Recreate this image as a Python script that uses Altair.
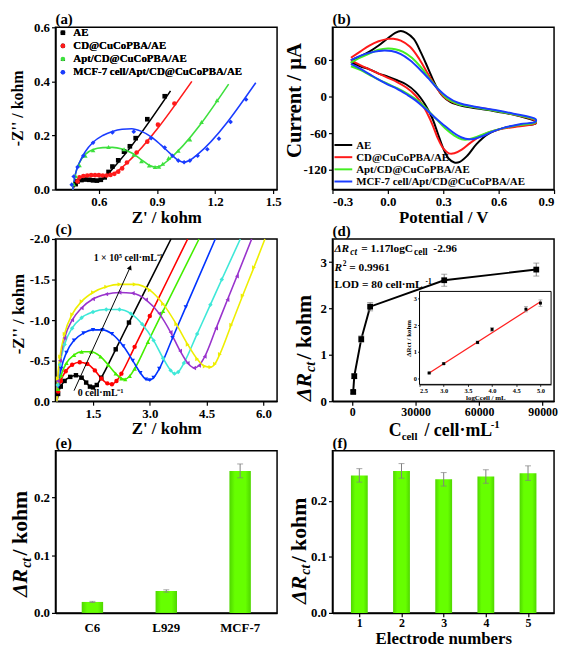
import altair as alt
import pandas as pd

FONT = "Liberation Serif"
W, H = 224, 164
FIX_MINUS = "replace(datum.label, '\u2212', '-')"

# ---------------- (a) Nyquist plots of the electrode build-up ----------------
a_names = ["AE", "CD@CuCoPBA/AE", "Apt/CD@CuCoPBA/AE", "MCF-7 cell/Apt/CD@CuCoPBA/AE"]
a_colors = ["#000000", "#ff1a1a", "#3de03d", "#1a3cff"]
a_shapes = ["square", "circle", "triangle-up", "diamond"]

ae_pts_x = [0.48, 0.49, 0.51, 0.53, 0.55, 0.57, 0.59, 0.61, 0.63, 0.65, 0.67, 0.70, 0.73, 0.76, 0.79, 0.85, 0.94]
ae_pts_y = [0.020, 0.030, 0.035, 0.037, 0.036, 0.034, 0.033, 0.036, 0.045, 0.065, 0.085, 0.108, 0.140, 0.160, 0.190, 0.260, 0.345]
ae_fit_x = [0.465, 0.48, 0.50, 0.53, 0.56, 0.59, 0.62, 0.66, 0.97]
ae_fit_y = [0.0, 0.022, 0.031, 0.035, 0.034, 0.032, 0.038, 0.068, 0.365]

cd_pts_x = [0.49, 0.50, 0.52, 0.54, 0.56, 0.58, 0.60, 0.62, 0.64, 0.66, 0.68, 0.70, 0.72, 0.745, 0.795, 0.85, 0.905, 0.99]
cd_pts_y = [0.030, 0.045, 0.050, 0.052, 0.053, 0.053, 0.053, 0.052, 0.052, 0.054, 0.058, 0.066, 0.078, 0.100, 0.137, 0.177, 0.240, 0.318]
cd_fit_x = [0.465, 0.48, 0.50, 0.54, 0.58, 0.62, 0.66, 0.70, 0.74, 1.08]
cd_fit_y = [0.0, 0.030, 0.045, 0.052, 0.054, 0.052, 0.055, 0.070, 0.095, 0.400]

apt_pts_x = [0.47, 0.48, 0.50, 0.53, 0.57, 0.65, 0.73, 0.78, 0.82, 0.86, 0.89, 0.91, 0.93, 0.96, 1.01, 1.07, 1.13, 1.21]
apt_pts_y = [0.020, 0.050, 0.090, 0.125, 0.145, 0.157, 0.149, 0.129, 0.105, 0.089, 0.083, 0.084, 0.095, 0.117, 0.143, 0.185, 0.250, 0.330]
apt_fit_x = [0.465, 0.48, 0.50, 0.53, 0.57, 0.62, 0.67, 0.72, 0.77, 0.82, 0.86, 0.89, 0.92, 0.96, 1.27]
apt_fit_y = [0.0, 0.060, 0.100, 0.130, 0.148, 0.155, 0.156, 0.150, 0.135, 0.110, 0.090, 0.083, 0.088, 0.110, 0.390]

mcf_pts_x = [0.46, 0.47, 0.49, 0.52, 0.57, 0.67, 0.78, 0.87, 0.94, 0.98, 1.01, 1.04, 1.07, 1.11, 1.16, 1.22, 1.28, 1.36]
mcf_pts_y = [0.018, 0.048, 0.083, 0.125, 0.173, 0.211, 0.214, 0.190, 0.155, 0.125, 0.107, 0.101, 0.107, 0.125, 0.149, 0.188, 0.250, 0.333]
mcf_fit_x = [0.465, 0.48, 0.50, 0.53, 0.57, 0.62, 0.67, 0.72, 0.77, 0.82, 0.87, 0.92, 0.97, 1.01, 1.04, 1.07, 1.11, 1.41]
mcf_fit_y = [0.0, 0.060, 0.100, 0.140, 0.175, 0.200, 0.215, 0.223, 0.225, 0.215, 0.195, 0.165, 0.132, 0.108, 0.101, 0.108, 0.130, 0.395]

# ---------------- (b) cyclic voltammograms ----------------
b_names = a_names
b_colors = ["#000000", "#ff1a1a", "#44ee22", "#1a3cff"]
b_ae_x = [-0.20, -0.15, -0.10, -0.05, 0.00, 0.04, 0.07, 0.10, 0.14, 0.18, 0.22, 0.26, 0.30, 0.34, 0.40, 0.50, 0.60, 0.70, 0.80,
          0.80, 0.72, 0.62, 0.54, 0.48, 0.43, 0.39, 0.36, 0.33, 0.30, 0.27, 0.24, 0.20, 0.15, 0.10, 0.05, 0.00, -0.05, -0.10, -0.15, -0.20]
b_ae_y = [60, 66, 74, 84, 96, 105, 108, 105, 95, 72, 45, 18, 0, -9, -15, -20, -25, -31, -41,
          -44, -47, -52, -62, -78, -97, -107, -108, -102, -85, -60, -35, -12, 8, 20, 27, 33, 38, 45, 50, 57]
b_cd_x = [-0.20, -0.15, -0.10, -0.05, 0.00, 0.03, 0.07, 0.12, 0.17, 0.22, 0.27, 0.31, 0.36, 0.45, 0.55, 0.65, 0.75, 0.80,
          0.80, 0.70, 0.60, 0.52, 0.45, 0.40, 0.36, 0.33, 0.30, 0.27, 0.24, 0.20, 0.15, 0.10, 0.05, 0.00, -0.05, -0.10, -0.15, -0.20]
b_cd_y = [64, 74, 84, 91, 95, 95, 92, 82, 62, 36, 12, -2, -10, -16, -21, -27, -34, -40,
          -44, -49, -54, -62, -75, -87, -93, -93, -85, -68, -45, -20, 2, 15, 24, 31, 38, 45, 52, 60]
b_apt_x = [-0.20, -0.15, -0.10, -0.05, 0.00, 0.04, 0.08, 0.13, 0.18, 0.23, 0.28, 0.32, 0.38, 0.48, 0.58, 0.68, 0.80,
           0.80, 0.70, 0.62, 0.55, 0.49, 0.44, 0.40, 0.36, 0.31, 0.26, 0.21, 0.16, 0.10, 0.05, 0.00, -0.05, -0.10, -0.15, -0.20]
b_apt_y = [56, 64, 71, 77, 79, 78, 74, 64, 48, 28, 10, -3, -12, -18, -23, -29, -38,
           -42, -47, -52, -58, -65, -70, -70, -64, -52, -36, -20, -6, 6, 14, 21, 28, 36, 44, 50]
b_mcf_x = [-0.20, -0.15, -0.10, -0.05, -0.02, 0.02, 0.07, 0.12, 0.17, 0.22, 0.27, 0.32, 0.38, 0.48, 0.58, 0.68, 0.80,
           0.80, 0.72, 0.64, 0.57, 0.51, 0.47, 0.44, 0.40, 0.35, 0.30, 0.25, 0.20, 0.15, 0.10, 0.05, 0.00, -0.05, -0.10, -0.15, -0.20]
b_mcf_y = [60, 67, 72, 75, 76, 75, 70, 60, 46, 30, 13, 0, -10, -17, -22, -28, -37,
           -41, -45, -50, -57, -65, -69, -70, -67, -58, -46, -33, -19, -6, 4, 13, 20, 28, 37, 46, 54]

# ---------------- (c) Nyquist plots for different cell concentrations ----------------
c_names = ["0", "5e2", "1e3", "5e3", "1e4", "5e4", "1e5"]
c_colors = ["#000000", "#ff0000", "#44ee00", "#0033ff", "#3ee8d8", "#9933cc", "#eeee00"]
c_shapes = ["square", "circle", "triangle-up", "triangle-down", "diamond", "triangle-left", "triangle-right"]
c0_x = [0.55, 0.58, 0.65, 0.75, 0.90, 1.05, 1.20, 1.32, 1.42, 1.50, 1.60, 1.72, 2.10, 2.45, 3.56]
c0_y = [0, -0.09, -0.18, -0.25, -0.30, -0.32, -0.29, -0.23, -0.18, -0.17, -0.20, -0.29, -0.64, -0.97, -2.0]
c1_x = [0.55, 0.58, 0.65, 0.78, 0.95, 1.15, 1.35, 1.55, 1.72, 1.88, 2.00, 2.12, 2.25, 2.60, 3.00, 4.00]
c1_y = [0, -0.12, -0.25, -0.37, -0.45, -0.48, -0.46, -0.38, -0.28, -0.22, -0.21, -0.25, -0.34, -0.67, -1.05, -2.0]
c2_x = [0.55, 0.58, 0.66, 0.80, 1.00, 1.20, 1.45, 1.70, 1.90, 2.10, 2.25, 2.35, 2.47, 2.60, 2.95, 3.35, 4.30]
c2_y = [0, -0.15, -0.32, -0.47, -0.57, -0.61, -0.61, -0.55, -0.45, -0.34, -0.28, -0.27, -0.31, -0.40, -0.73, -1.11, -2.0]
c3_x = [0.55, 0.58, 0.66, 0.80, 1.00, 1.25, 1.50, 1.75, 2.00, 2.30, 2.55, 2.75, 2.90, 3.00, 3.10, 3.25, 3.60, 3.95, 4.73]
c3_y = [0, -0.18, -0.40, -0.60, -0.75, -0.84, -0.88, -0.88, -0.83, -0.68, -0.50, -0.35, -0.27, -0.26, -0.29, -0.40, -0.78, -1.16, -2.0]
c4_x = [0.55, 0.57, 0.63, 0.75, 0.95, 1.20, 1.50, 1.85, 2.20, 2.50, 2.80, 3.10, 3.35, 3.55, 3.65, 3.75, 3.90, 4.25, 4.60, 4.90, 5.39]
c4_y = [0, -0.20, -0.45, -0.70, -0.90, -1.03, -1.10, -1.13, -1.13, -1.08, -0.95, -0.75, -0.53, -0.38, -0.34, -0.36, -0.47, -0.83, -1.19, -1.50, -2.0]
c5_x = [0.55, 0.57, 0.63, 0.75, 0.95, 1.20, 1.50, 1.85, 2.20, 2.55, 2.90, 3.25, 3.55, 3.80, 4.00, 4.17, 4.30, 4.45, 4.75, 5.05, 5.30, 5.69]
c5_y = [0, -0.25, -0.50, -0.78, -1.00, -1.15, -1.26, -1.32, -1.34, -1.33, -1.25, -1.08, -0.85, -0.62, -0.47, -0.41, -0.44, -0.55, -0.90, -1.25, -1.54, -2.0]
c6_x = [0.55, 0.57, 0.63, 0.75, 0.95, 1.20, 1.50, 1.85, 2.20, 2.60, 3.00, 3.35, 3.70, 4.00, 4.25, 4.45, 4.60, 4.72, 4.85, 5.15, 5.45, 5.75, 6.04]
c6_y = [0, -0.28, -0.55, -0.83, -1.07, -1.23, -1.34, -1.41, -1.44, -1.44, -1.37, -1.20, -0.95, -0.70, -0.52, -0.43, -0.42, -0.46, -0.58, -0.94, -1.30, -1.65, -2.0]
c_arrow_x = [1.0, 2.48]
c_arrow_y = [-0.13, -1.65]

# ---------------- (d) calibration ----------------
d_conc = [500, 1000, 4300, 8500, 43500, 87000]
d_drct = [0.20, 0.54, 1.34, 2.04, 2.61, 2.84]
d_err = [0.03, 0.05, 0.07, 0.09, 0.13, 0.14]
inset_log = [2.7, 3.0, 3.7, 4.0, 4.7, 5.0]
inset_drct = [0.20, 0.55, 1.35, 1.84, 2.60, 2.83]
inset_err = [0.03, 0.03, 0.05, 0.07, 0.10, 0.12]
inset_fit_x = [2.7, 5.0]
inset_fit_y = [0.20, 2.88]

# ---------------- (e) selectivity, (f) reproducibility ----------------
e_cells = ["C6", "L929", "MCF-7"]
e_vals = [0.019, 0.038, 0.246]
e_err = [0.001, 0.002, 0.012]
f_elec = [1, 2, 3, 4, 5]
f_vals = [0.245, 0.253, 0.238, 0.243, 0.249]
f_err = [0.012, 0.013, 0.012, 0.012, 0.013]


def series_df(names, xs_list, ys_list):
    rows = []
    for n, xs, ys in zip(names, xs_list, ys_list):
        for i, (x, y) in enumerate(zip(xs, ys)):
            rows.append({"s": n, "x": x, "y": y, "i": i})
    return pd.DataFrame(rows)


def txt(text, x, y, size, angle=0, style="normal", align="left", baseline="alphabetic", weight="bold"):
    return alt.Chart(pd.DataFrame({"k": [0]})).mark_text(
        text=text, font=FONT, fontSize=size, fontWeight=weight, fontStyle=style,
        align=align, baseline=baseline, angle=angle, color="black"
    ).encode(x=alt.value(x), y=alt.value(y))


def ytitle_sub(ybot, xb, size=22, sub=14):
    w1 = 1.3 * size + 1
    w2 = 0.75 * sub + 2
    return [txt("\u0394R", xb, ybot, size, angle=270, style="italic"),
            txt("ct", xb + 4, ybot - w1, sub, angle=270, style="italic"),
            txt("/ kohm", xb, ybot - w1 - w2, size, angle=270)]


bar_fill = alt.LinearGradient(
    gradient="linear", x1=0, x2=1, y1=0, y2=0,
    stops=[alt.GradientStop(color="#4fd600", offset=0),
           alt.GradientStop(color="#66ff00", offset=0.25),
           alt.GradientStop(color="#66ff00", offset=0.75),
           alt.GradientStop(color="#4fd600", offset=1)])
ERR = "#808080"

# ======== panel (a) ========
a_pts = series_df(a_names, [ae_pts_x, cd_pts_x, apt_pts_x, mcf_pts_x], [ae_pts_y, cd_pts_y, apt_pts_y, mcf_pts_y])
a_fit = series_df(a_names, [ae_fit_x, cd_fit_x, apt_fit_x, mcf_fit_x], [ae_fit_y, cd_fit_y, apt_fit_y, mcf_fit_y])
ax_x = alt.X("x:Q", scale=alt.Scale(domain=[0.376, 1.52], nice=False, zero=False),
             axis=alt.Axis(values=[0.6, 0.9, 1.2, 1.5], format=".1f", title="Z' / kohm"))
ax_y = alt.Y("y:Q", scale=alt.Scale(domain=[0, 0.6], nice=False, zero=False),
             axis=alt.Axis(values=[0, 0.2, 0.4, 0.6], format=".1f", title=None))
a_leg = alt.Legend(title=None, orient="none", legendX=2, legendY=0, padding=0, symbolSize=22,
                   labelFont=FONT, labelFontSize=11, labelFontWeight="bold", labelColor="black",
                   labelOffset=5, rowPadding=1.3, symbolStrokeWidth=0, labelLimit=400)
a_lines = alt.Chart(a_fit).mark_line(interpolate="monotone", strokeWidth=1.6).encode(
    x=ax_x, y=ax_y,
    color=alt.Color("s:N", scale=alt.Scale(domain=a_names, range=a_colors), legend=None))
a_points = alt.Chart(a_pts).mark_point(filled=True, size=22, opacity=1).encode(
    x=ax_x, y=ax_y,
    color=alt.Color("s:N", scale=alt.Scale(domain=a_names, range=a_colors), legend=a_leg),
    shape=alt.Shape("s:N", scale=alt.Scale(domain=a_names, range=a_shapes), legend=a_leg))
panel_a = alt.layer(
    a_lines, a_points,
    txt("(a)", 0, -3, 15),
    txt("-Z'' / kohm", -33, H / 2, 16, angle=270, align="center"),
).resolve_scale(color="independent").properties(width=W, height=H)

# ======== panel (b) ========
b_df = series_df(b_names, [b_ae_x, b_cd_x, b_apt_x, b_mcf_x], [b_ae_y, b_cd_y, b_apt_y, b_mcf_y])
b_lines = alt.Chart(b_df).mark_line(interpolate="catmull-rom", strokeWidth=2).encode(
    x=alt.X("x:Q", scale=alt.Scale(domain=[-0.3, 0.9], nice=False, zero=False),
            axis=alt.Axis(values=[-0.3, 0, 0.3, 0.6, 0.9], format=".1f", labelExpr=FIX_MINUS,
                          title="Potential / V")),
    y=alt.Y("y:Q", scale=alt.Scale(domain=[-152.5, 114], nice=False, zero=False),
            axis=alt.Axis(values=[-120, -60, 0, 60], labelExpr=FIX_MINUS, title=None)),
    color=alt.Color("s:N", scale=alt.Scale(domain=b_names, range=b_colors), legend=None),
    order="i:Q")
b_legend_layers = []
for k, (name, col) in enumerate(zip(b_names, b_colors)):
    yrow = 119 + 12.3 * k
    b_legend_layers.append(
        alt.Chart(pd.DataFrame({"k": [0]})).mark_rule(color=col, strokeWidth=2).encode(
            x=alt.value(2), x2=alt.value(20), y=alt.value(yrow)))
    b_legend_layers.append(txt(name, 24, yrow + 4, 11))
panel_b = alt.layer(
    b_lines, *b_legend_layers,
    txt("(b)", 0, -3, 15),
    txt("Current / \u03bcA", -32, H / 2 - 8, 21, angle=270, align="center"),
).properties(width=W, height=H)

# ======== panel (c) ========
c_df = series_df(c_names, [c0_x, c1_x, c2_x, c3_x, c4_x, c5_x, c6_x], [c0_y, c1_y, c2_y, c3_y, c4_y, c5_y, c6_y])
c_mk = c_df[(c_df["y"] < 0) & (c_df["y"] > -2.0)]
c_xscale = alt.Scale(domain=[0.51, 6.36], nice=False, zero=False)
c_yscale = alt.Scale(domain=[0, -2], nice=False, zero=False)
c_xaxis = alt.Axis(values=[1.5, 3.0, 4.5, 6.0], format=".1f", title="Z' / kohm")
c_yaxis = alt.Axis(values=[0, -0.5, -1.0, -1.5, -2.0], format=".1f", labelExpr=FIX_MINUS, title=None)


def cx(f):
    return alt.X(f, scale=c_xscale, axis=c_xaxis)


def cy(f):
    return alt.Y(f, scale=c_yscale, axis=c_yaxis)


c_color = alt.Color("s:N", scale=alt.Scale(domain=c_names, range=c_colors), legend=None)
c_lines = alt.Chart(c_df).mark_line(interpolate="monotone", strokeWidth=1.6).encode(
    x=cx("x:Q"), y=cy("y:Q"), color=c_color)
c_points = alt.Chart(c_mk).mark_point(filled=True, size=20, opacity=1).encode(
    x=cx("x:Q"), y=cy("y:Q"), color=c_color,
    shape=alt.Shape("s:N", scale=alt.Scale(domain=c_names, range=c_shapes), legend=None))
arrow_df = pd.DataFrame({"x": [c_arrow_x[0]], "y": [c_arrow_y[0]], "x2": [c_arrow_x[1]], "y2": [c_arrow_y[1]]})
c_arrow = alt.Chart(arrow_df).mark_rule(color="black", strokeWidth=1).encode(
    x=cx("x:Q"), y=cy("y:Q"), x2="x2:Q", y2="y2:Q")
c_head = alt.Chart(arrow_df).mark_point(shape="triangle-up", filled=True, size=28, angle=24,
                                        color="black", opacity=1).encode(x=cx("x2:Q"), y=cy("y2:Q"))
c_ann = pd.DataFrame({"x": [2.43, 1.70], "y": [-1.77, -0.10],
                      "t": ["1 \u00d7 10\u2075 cell\u00b7mL\u207b\u00b9", "0 cell\u00b7mL\u207b\u00b9"]})
c_text = alt.Chart(c_ann).mark_text(font=FONT, fontSize=10, fontWeight="bold", color="black").encode(
    x=cx("x:Q"), y=cy("y:Q"), text="t:N")
panel_c = alt.layer(
    c_lines, c_points, c_arrow, c_head, c_text,
    txt("(c)", 0, -5, 15),
    txt("-Z'' / kohm", -32, H / 2 - 6, 17, angle=270, align="center"),
).properties(width=W, height=H)

# ======== panel (d) ========
d_df = pd.DataFrame({"c": d_conc, "r": d_drct,
                     "lo": [v - e for v, e in zip(d_drct, d_err)], "hi": [v + e for v, e in zip(d_drct, d_err)]})
d_xscale = alt.Scale(domain=[-9300, 95400], nice=False, zero=False)
d_yscale = alt.Scale(domain=[0, 3.5], nice=False, zero=False)
d_xaxis = alt.Axis(values=[0, 30000, 60000, 90000], format="d", title=None, orient="bottom",
                   labelFontSize=12, labelPadding=1)
d_yaxis = alt.Axis(values=[0, 1, 2, 3], format="d", title=None, orient="left")


def dx(f):
    return alt.X(f, scale=d_xscale, axis=d_xaxis)


def dy(f):
    return alt.Y(f, scale=d_yscale, axis=d_yaxis)


d_main = alt.layer(
    alt.Chart(d_df).mark_line(color="black", strokeWidth=2).encode(x=dx("c:Q"), y=dy("r:Q")),
    alt.Chart(d_df).mark_rule(color=ERR, strokeWidth=1).encode(x=dx("c:Q"), y=dy("lo:Q"), y2="hi:Q"),
    alt.Chart(d_df).mark_tick(color=ERR, size=6, thickness=1, orient="horizontal").encode(x=dx("c:Q"), y=dy("lo:Q")),
    alt.Chart(d_df).mark_tick(color=ERR, size=6, thickness=1, orient="horizontal").encode(x=dx("c:Q"), y=dy("hi:Q")),
    alt.Chart(d_df).mark_point(shape="square", filled=True, size=34, color="black", opacity=1).encode(
        x=dx("c:Q"), y=dy("r:Q")),
    txt("(d)", 0, -3, 15),
    txt("\u0394R", 2, 13, 11.5, style="italic"),
    txt("ct", 18, 16, 9.5, style="italic"),
    txt("= 1.17logC", 29, 13, 11.5),
    txt("cell", 82.5, 16, 9.5),
    txt("-2.96", 102, 13, 11.5),
    txt("R", 2, 32, 11.5, style="italic"),
    txt("2", 10.5, 27, 7.5),
    txt("= 0.9961", 17, 32, 11.5),
    txt("LOD = 80 cell\u00b7mL", 2, 50, 11.5),
    txt("-1", 94, 45, 7.5),
    *ytitle_sub(H, -22),
    txt("C", 57, H + 35, 18),
    txt("cell", 70, H + 39, 11),
    txt("/ cell\u00b7mL", 93, H + 35, 18),
    txt("-1", 160, H + 27, 11),
)

inset_df = pd.DataFrame({"lx": inset_log, "ly": inset_drct,
                         "lo": [v - e for v, e in zip(inset_drct, inset_err)],
                         "hi": [v + e for v, e in zip(inset_drct, inset_err)]})
inset_fit = pd.DataFrame({"lx": inset_fit_x, "ly": inset_fit_y})
inset_box = pd.DataFrame({"lx": [2.5], "lx2": [5.22], "ly": [-0.23], "ly2": [3.27]})
i_xscale = alt.Scale(domain=[2.5, 5.22], range=[88, 221], nice=False, zero=False)
i_yscale = alt.Scale(domain=[-0.23, 3.27], range=[147, 53], nice=False, zero=False)
i_xaxis = alt.Axis(orient="bottom", offset=-(H - 147), values=[2.5, 3.0, 3.5, 4.0, 4.5, 5.0], format=".1f",
                   labelFontSize=6.5, tickSize=2, tickWidth=0.8, domainWidth=1, labelPadding=1,
                   title="logCcell / mL", titleFontSize=7, titlePadding=0)
i_yaxis = alt.Axis(orient="left", offset=-88, values=[0, 1, 2, 3], format="d",
                   labelFontSize=6.5, tickSize=2, tickWidth=0.8, domainWidth=1, labelPadding=1,
                   title="\u0394Rct / kohm", titleFontSize=7, titlePadding=2)


def ix(f):
    return alt.X(f, scale=i_xscale, axis=i_xaxis)


def iy(f):
    return alt.Y(f, scale=i_yscale, axis=i_yaxis)


d_inset = alt.layer(
    alt.Chart(inset_box).mark_rect(fill="white", stroke="black", strokeWidth=1).encode(
        x=ix("lx:Q"), x2="lx2:Q", y=iy("ly:Q"), y2="ly2:Q"),
    alt.Chart(inset_fit).mark_line(color="#ff2020", strokeWidth=1.2).encode(x=ix("lx:Q"), y=iy("ly:Q")),
    alt.Chart(inset_df).mark_rule(color=ERR, strokeWidth=0.8).encode(x=ix("lx:Q"), y=iy("lo:Q"), y2="hi:Q"),
    alt.Chart(inset_df).mark_tick(color=ERR, size=4, thickness=0.8, orient="horizontal").encode(x=ix("lx:Q"), y=iy("lo:Q")),
    alt.Chart(inset_df).mark_tick(color=ERR, size=4, thickness=0.8, orient="horizontal").encode(x=ix("lx:Q"), y=iy("hi:Q")),
    alt.Chart(inset_df).mark_point(shape="square", filled=True, size=9, color="black", opacity=1).encode(
        x=ix("lx:Q"), y=iy("ly:Q")),
)
panel_d = alt.layer(d_main, d_inset).resolve_scale(x="independent", y="independent").properties(width=W, height=H)

# ======== panel (e) ========
e_df = pd.DataFrame({"cell": e_cells, "v": e_vals,
                     "lo": [v - e for v, e in zip(e_vals, e_err)], "hi": [v + e for v, e in zip(e_vals, e_err)]})
e_x = alt.X("cell:N", sort=e_cells, scale=alt.Scale(paddingInner=0.71, paddingOuter=0.355),
            axis=alt.Axis(title=None, labelAngle=0, ticks=False, labelPadding=9))
e_yscale = alt.Scale(domain=[0, 0.281], nice=False, zero=False)
e_yaxis = alt.Axis(values=[0, 0.1, 0.2], format=".1f", title=None)
panel_e = alt.layer(
    alt.Chart(e_df).mark_bar(color=bar_fill).encode(x=e_x, y=alt.Y("v:Q", scale=e_yscale, axis=e_yaxis)),
    alt.Chart(e_df).mark_rule(color=ERR, strokeWidth=1).encode(
        x=e_x, y=alt.Y("lo:Q", scale=e_yscale, axis=e_yaxis), y2="hi:Q"),
    alt.Chart(e_df).mark_tick(color=ERR, size=6, thickness=1).encode(
        x=e_x, y=alt.Y("lo:Q", scale=e_yscale, axis=e_yaxis)),
    alt.Chart(e_df).mark_tick(color=ERR, size=6, thickness=1).encode(
        x=e_x, y=alt.Y("hi:Q", scale=e_yscale, axis=e_yaxis)),
    txt("(e)", 0, -3, 15),
    *ytitle_sub(148, -29),
).properties(width=W, height=H)

# ======== panel (f) ========
f_df = pd.DataFrame({"n": f_elec, "v": f_vals,
                     "lo": [v - e for v, e in zip(f_vals, f_err)], "hi": [v + e for v, e in zip(f_vals, f_err)]})
f_xscale = alt.Scale(domain=[0.48, 5.5], nice=False, zero=False)
f_xaxis = alt.Axis(values=[1, 2, 3, 4, 5], format="d", title="Electrode numbers", titlePadding=2,
                   labelFontSize=12, labelPadding=1)
f_yscale = alt.Scale(domain=[0, 0.289], nice=False, zero=False)
f_yaxis = alt.Axis(values=[0, 0.1, 0.2], format=".1f", title=None)


def fx(f):
    return alt.X(f, scale=f_xscale, axis=f_xaxis)


def fy(f):
    return alt.Y(f, scale=f_yscale, axis=f_yaxis)


panel_f = alt.layer(
    alt.Chart(f_df).mark_bar(color=bar_fill, size=17, orient="vertical").encode(x=fx("n:Q"), y=fy("v:Q")),
    alt.Chart(f_df).mark_rule(color=ERR, strokeWidth=1).encode(x=fx("n:Q"), y=fy("lo:Q"), y2="hi:Q"),
    alt.Chart(f_df).mark_tick(color=ERR, size=6, thickness=1, orient="horizontal").encode(x=fx("n:Q"), y=fy("lo:Q")),
    alt.Chart(f_df).mark_tick(color=ERR, size=6, thickness=1, orient="horizontal").encode(x=fx("n:Q"), y=fy("hi:Q")),
    txt("(f)", 0, -3, 15),
    *ytitle_sub(155, -27),
).properties(width=W, height=H)

chart = alt.concat(
    panel_a, panel_b, panel_c, panel_d, panel_e, panel_f,
    columns=2, spacing={"row": 50, "column": 56}, bounds="flush",
).resolve_scale(
    color="independent", shape="independent"
).properties(padding=0).configure_axis(
    labelFont=FONT, labelFontSize=13, labelFontWeight="bold", labelColor="black",
    titleFont=FONT, titleFontSize=17, titleFontWeight="bold", titleColor="black",
    domainColor="black", domainWidth=1.5, tickColor="black", tickWidth=1.2, tickSize=4,
    labelPadding=2, titlePadding=1, grid=False
).configure_view(stroke="black", strokeWidth=1.5)

chart.save("out.html", embed_options={"renderer": "svg", "actions": False})
